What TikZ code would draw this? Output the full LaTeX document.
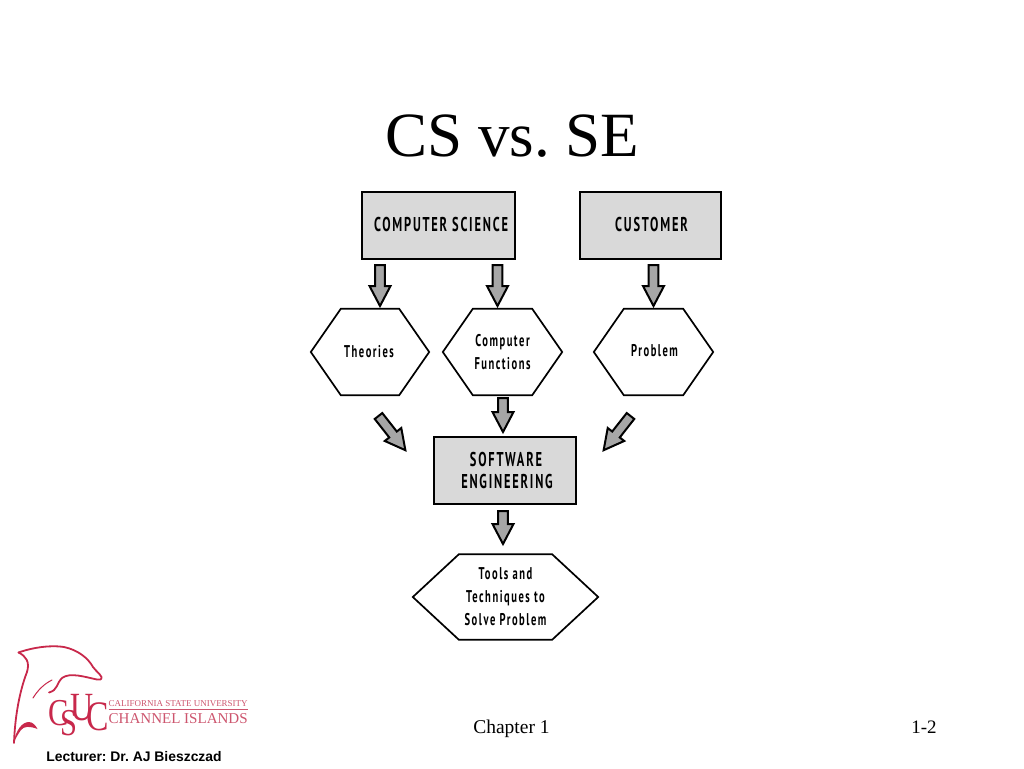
\documentclass[tikz,border=0pt]{standalone}
\usepackage{fontspec}
\usepackage{graphicx}
\usetikzlibrary{calc}
\frenchspacing
\setmainfont{Liberation Serif}
\newfontfamily\lecfont{Liberation Sans}
\newfontfamily\handfont[FakeStretch=0.62,LetterSpace=9]{PT Sans}
\definecolor{boxgray}{gray}{0.85}
\definecolor{arrowgray}{gray}{0.65}
\definecolor{logored}{RGB}{200,40,75}
\definecolor{logotext}{RGB}{205,85,110}
\tikzset{
  x=1pt,y=-1pt,
  boxnode/.style={draw=black,fill=boxgray,line width=2.2pt,inner sep=0pt,align=center,font=\handfont\bfseries\fontsize{20}{22}\selectfont},
  hexnode/.style={inner sep=0pt,align=center,font=\handfont\bfseries\fontsize{17}{23}\selectfont},
  hexline/.style={draw=black,line width=1.7pt,line join=miter},
  blockshape/.style={draw=black,fill=arrowgray,line width=2pt,line join=miter},
  logostroke/.style={draw=logored,line width=1.8pt,line cap=round,line join=round},
  slidetext/.style={inner sep=0pt,anchor=base,text=black},
}
\newcommand{\hexoutline}[2]{%
  \draw[hexline] (#1.west) -- ($(#1.north west)+(#2,0)$) -- ($(#1.north east)-(#2,0)$) -- (#1.east)
    -- ($(#1.south east)-(#2,0)$) -- ($(#1.south west)+(#2,0)$) -- cycle;}
\newcommand{\blockconn}[2]{%
  \path let \p1=(#1),\p2=(#2),\n1={atan2(\y2-\y1,\x2-\x1)},\n2={veclen(\x2-\x1,\y2-\y1)} in
    \pgfextra{\xdef\blockang{\n1}\xdef\blocklen{\n2}};
  \begin{scope}[shift={(#1)},rotate=\blockang]
    \pgfmathsetmacro{\blockneck}{\blocklen-21}
    \pgfmathsetmacro{\blocktip}{\blocklen-1}
    \draw[blockshape] (0,-4.8) -- (\blockneck,-4.8) -- (\blockneck,-10.5) -- (\blocktip,0)
      -- (\blockneck,10.5) -- (\blockneck,4.8) -- (0,4.8) -- cycle;
  \end{scope}}
\newcommand{\logoC}[1]{\scalebox{.8}[1]{\fontsize{#1}{#1}\selectfont C}}
\newcommand{\logoS}{\scalebox{.8}[1]{\fontsize{38}{38}\selectfont S}}
\newcommand{\logoU}{\scalebox{.8}[1]{\fontsize{40}{40}\selectfont U}}
\begin{document}
\begin{tikzpicture}
\useasboundingbox (0,0) rectangle (1024,768);
\fill[white] (0,0) rectangle (1024,768);

\node[slidetext,font=\fontsize{63}{63}\selectfont] (title) at (512.5,156) {CS vs. SE};

% boxes
\node[boxnode,minimum width=153,minimum height=67] (cs) at (438.5,225.5) {\hspace{5pt}\raisebox{2pt}{COMPUTER SCIENCE}};
\node[boxnode,minimum width=141,minimum height=67] (cust) at (650.5,225.5) {\hspace{2pt}\raisebox{2pt}{CUSTOMER}};
\node[boxnode,minimum width=142,minimum height=67] (se) at (505,470.5) {\hspace{2pt}SOFTWARE\\\hspace{4pt}ENGINEERING};

% hexagons
\node[hexnode,minimum width=118,minimum height=86] (theories) at (370,352) {\hspace{-2pt}\raisebox{1pt}{Theories}};
\node[hexnode,minimum width=119,minimum height=86] (functions) at (502.5,352) {Computer\\Functions};
\node[hexnode,minimum width=119,minimum height=86] (problem) at (653.5,352) {\hspace{2pt}\raisebox{4pt}{Problem}};
\node[hexnode,minimum width=185,minimum height=85] (tools) at (505.5,597) {Tools and\\Techniques to\\Solve Problem};
\hexoutline{theories}{30}
\hexoutline{functions}{30}
\hexoutline{problem}{30}
\hexoutline{tools}{46}

% connector ends
\coordinate (a1s) at (380,265); \coordinate (a1e) at (380,307);
\coordinate (a2s) at (497.5,265); \coordinate (a2e) at (497.5,307);
\coordinate (a3s) at (653.5,265); \coordinate (a3e) at (653.5,307);
\coordinate (a4s) at (503,398); \coordinate (a4e) at (503,433);
\coordinate (a5s) at (503,511); \coordinate (a5e) at (503,545);
\coordinate (a6s) at (378.5,416); \coordinate (a6e) at (406,451);
\coordinate (a7s) at (630.5,416); \coordinate (a7e) at (603,451);
\blockconn{a1s}{a1e}
\blockconn{a2s}{a2e}
\blockconn{a3s}{a3e}
\blockconn{a4s}{a4e}
\blockconn{a5s}{a5e}
\blockconn{a6s}{a6e}
\blockconn{a7s}{a7e}

% footer
\node[slidetext,font=\fontsize{19.5}{20}\selectfont] (chapter) at (511.5,733) {Chapter 1};
\node[slidetext,font=\fontsize{19}{20}\selectfont] (pagenum) at (924,733) {1-2};
\node[slidetext,font=\lecfont\bfseries\fontsize{13.9}{14}\selectfont] (lecturer) at (134,761) {Lecturer: Dr. AJ Bieszczad};

% logo
\draw[logostroke] (18.5,652.5) .. controls (34,647) and (52,645) .. (64,647) .. controls (78,650) and (88,658) .. (93,667)
  .. controls (96,671) and (100,674) .. (101.5,677) .. controls (102,680) and (99,680) .. (97,679.5)
  .. controls (85,677) and (70,672) .. (62,678) .. controls (56,684) and (58,690) .. (49,692.5);
\draw[logostroke] (18.5,652.5) .. controls (26,656) and (30,662) .. (27,672)
  .. controls (20,690) and (15,715) .. (14,743);
\fill[logored] (13.5,743) .. controls (16,730) and (22,722) .. (29,722) .. controls (33,722) and (36,726) .. (37.5,729)
  .. controls (30,726) and (24,726) .. (21,730) .. controls (18,734) and (16,738) .. (13.5,743) -- cycle;
\draw[logostroke,line width=1pt] (33,698) .. controls (38,690) and (44,684) .. (52,680);
\node[inner sep=0pt,anchor=base west,text=logored] (csuc) at (48,725)
  {\logoC{38}\kern-8pt\raisebox{-10pt}{\logoS}\kern-7pt\raisebox{5pt}{\logoU}\kern-7pt\raisebox{-5pt}{\logoC{42}}};
\node[inner sep=0pt,anchor=base west,text=logotext] (cal) at (108.5,706) {\resizebox{139pt}{!}{\fontsize{10}{10}\selectfont CALIFORNIA STATE UNIVERSITY}};
\node[inner sep=0pt,anchor=base west,text=logotext] (chan) at (108.5,723) {\resizebox{139pt}{!}{\fontsize{14}{14}\selectfont CHANNEL ISLANDS}};
\draw[logotext,line width=1pt] (cal.base west)+(0,3) -- +(139,3);
\end{tikzpicture}
\end{document}
